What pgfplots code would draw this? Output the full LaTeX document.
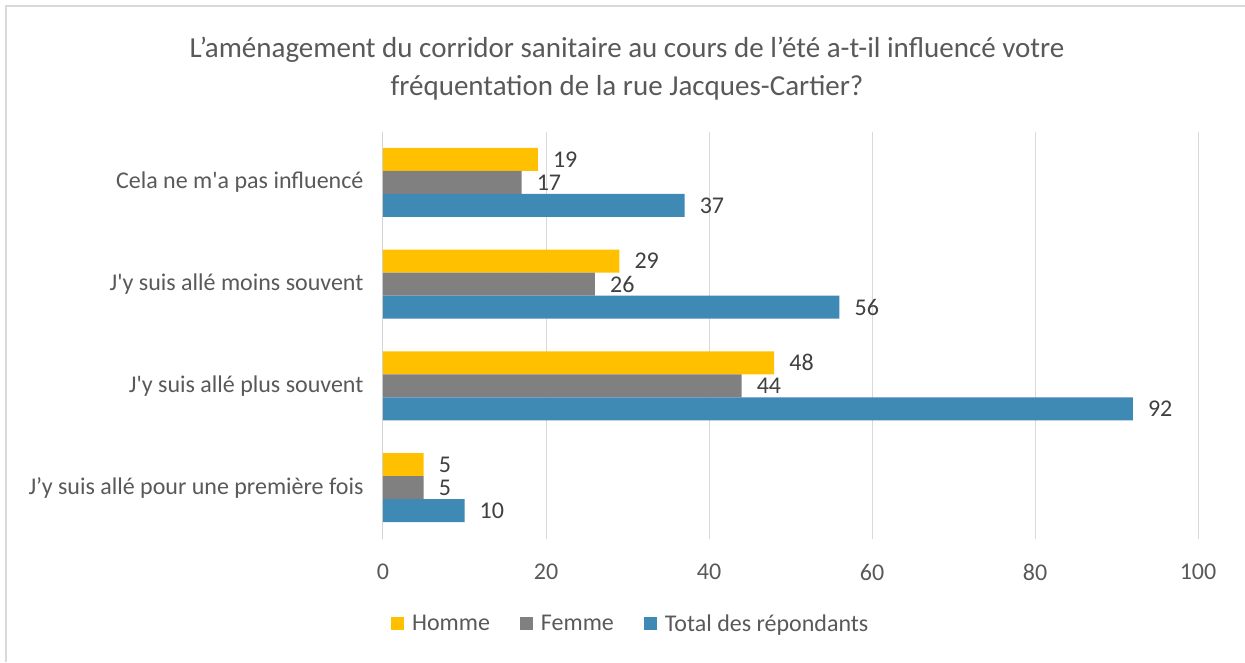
\documentclass[border=0pt]{standalone}
\usepackage{fontspec}
\setmainfont{Carlito}[Ligatures=TeXOff]
\usepackage{pgfplots}
\pgfplotsset{compat=1.18}
\definecolor{cHomme}{HTML}{FFC000}
\definecolor{cFemme}{HTML}{808080}
\definecolor{cTotal}{HTML}{3F89B5}
\definecolor{txt}{HTML}{595959}
\definecolor{lbl}{HTML}{404040}
\definecolor{gridc}{HTML}{D9D9D9}
\begin{document}
\begin{tikzpicture}
\useasboundingbox (0,0) rectangle (1245pt,662pt);
\draw[gridc, line width=1.5pt] (6pt,0pt) -- (6pt,656pt) -- (1245pt,656pt);
\node[txt, font=\fontsize{29}{34}\selectfont] at (627pt,612pt) {L’aménagement du corridor sanitaire au cours de l’été a-t-il influencé votre};
\node[txt, font=\fontsize{29}{34}\selectfont] at (627pt,574pt) {fréquentation de la rue Jacques-Cartier?};
\begin{axis}[
  at={(383pt,123.5pt)}, anchor=south west,
  scale only axis, width=815pt, height=407pt,
  xmin=0, xmax=100, ymin=-0.5, ymax=3.5,
  xbar, bar width=23pt,
  axis line style={draw=none},
  major tick length=0pt,
  xtick={0,20,40,60,80,100},
  ytick={0,1,2,3},
  yticklabels={J’y suis allé pour une première fois, J'y suis allé plus souvent, J'y suis allé moins souvent, Cela ne m'a pas influencé},
  xmajorgrids, grid style={gridc, line width=1pt},
  /pgf/number format/assume math mode=true,
  tick label style={txt, font=\fontsize{24}{28}\selectfont},
  yticklabel style={xshift=-16pt},
  xticklabel style={yshift=-22pt},
  nodes near coords,
  every node near coord/.append style={lbl, font=\fontsize{24}{28}\selectfont, anchor=west, inner sep=0pt, xshift=15pt},
  legend columns=3,
  legend style={at={(0.304,-0.21)}, anchor=center, draw=none, fill=none,
    font=\fontsize{24}{28}\selectfont, text=txt,
    /tikz/every odd column/.append style={column sep=6pt},
    /tikz/every even column/.append style={column sep=28pt}},
  legend image code/.code={\fill[#1] (0pt,-6.5pt) rectangle (13pt,6.5pt);},
]
\addplot[draw=none, fill=cHomme, bar shift=23pt] coordinates {(5,0) (48,1) (29,2) (19,3)};
\addplot[draw=none, fill=cFemme, bar shift=0pt] coordinates {(5,0) (44,1) (26,2) (17,3)};
\addplot[draw=none, fill=cTotal, bar shift=-23pt] coordinates {(10,0) (92,1) (56,2) (37,3)};
\legend{Homme, Femme, Total des répondants}
\draw[gridc!80!black, line width=1pt] (axis cs:0,-0.5) -- (axis cs:0,3.5);
\end{axis}
\end{tikzpicture}
\end{document}
